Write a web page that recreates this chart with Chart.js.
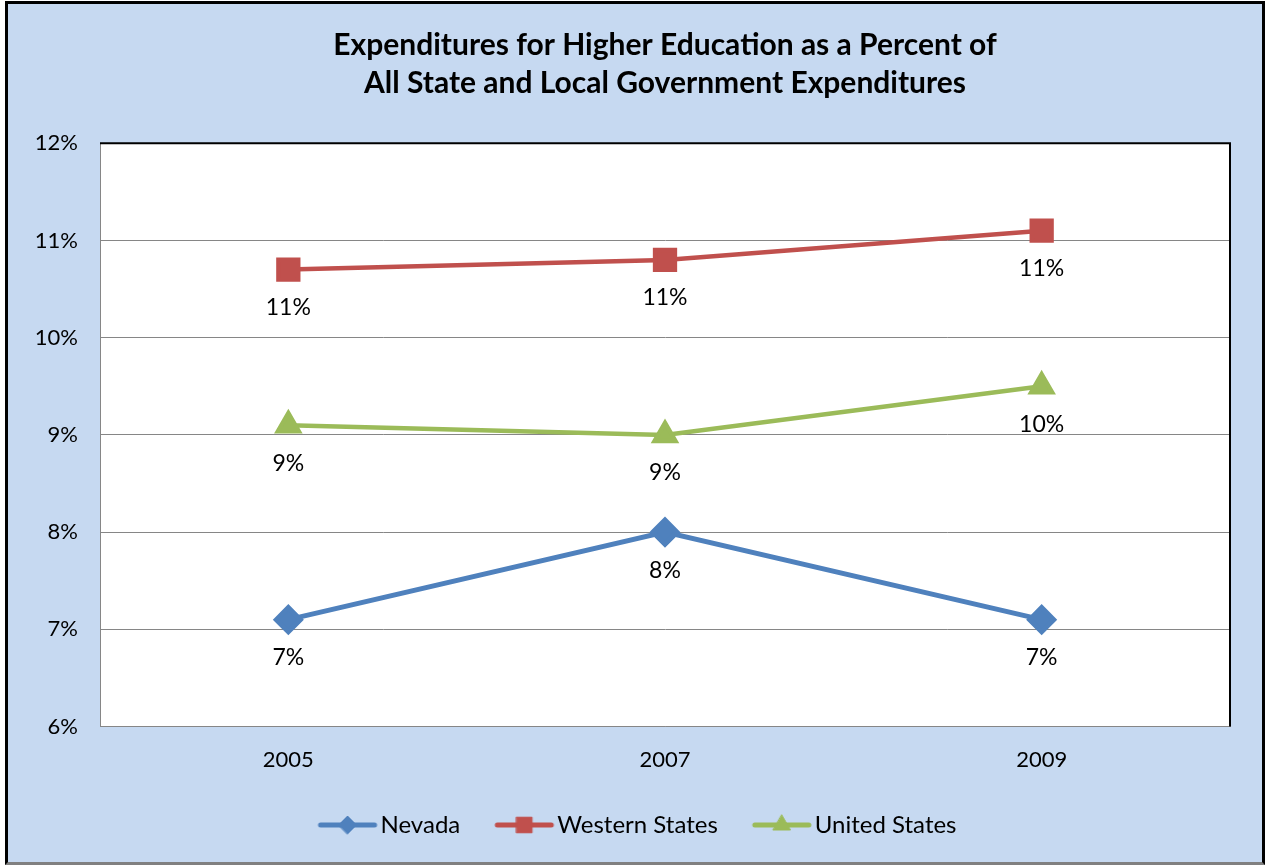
<!DOCTYPE html>
<html>
<head>
<meta charset="utf-8">
<script src="https://cdn.jsdelivr.net/npm/chart.js@4"></script>
<style>
  body { margin: 0; background: #fff; }
  #frame {
    position: absolute; left: 5px; top: 1px; width: 1260px; height: 864px;
    box-sizing: border-box; background: #c6d9f1;
    border: 3px solid #000; border-bottom: 3px solid #808080;
  }
  #chart { position: absolute; left: 0; top: 0; }
</style>
</head>
<body>
<div id="frame"></div>
<canvas id="chart" width="1265" height="865"></canvas>
<script>
const years = ['2005', '2007', '2009'];
const nevada = [7.1, 8.0, 7.1];
const western = [10.7, 10.8, 11.1];
const unitedStates = [9.1, 9.0, 9.5];
const yTicks = [6, 7, 8, 9, 10, 11, 12];

const fontName = 'Lato, "Liberation Sans", sans-serif';
const legendSize = 24;
const legendBox = 75;

// line + marker picture for the legend; left part is empty space between items
function legendIcon(color, style, radius) {
  const c = document.createElement('canvas');
  c.width = legendBox + legendSize;
  c.height = 26;
  const end = c.width - 4;
  const start = end - 58;
  const g = c.getContext('2d');
  g.strokeStyle = color;
  g.lineWidth = 5;
  g.lineCap = 'round';
  g.beginPath();
  g.moveTo(start + 2, 13);
  g.lineTo(end - 2, 13);
  g.stroke();
  g.fillStyle = color;
  g.lineWidth = 1;
  Chart.helpers.drawPoint(g, { pointStyle: style, radius: radius, borderWidth: 1, rotation: 0 }, (start + end) / 2, 13);
  return c;
}

const plotBackground = {
  id: 'plotBackground',
  beforeDraw(chart) {
    const { ctx, chartArea: a } = chart;
    ctx.save();
    ctx.fillStyle = '#fff';
    ctx.fillRect(a.left, a.top, a.right - a.left, a.bottom - a.top);
    ctx.restore();
  },
  afterDraw(chart) {
    const { ctx, chartArea: a } = chart;
    ctx.save();
    ctx.strokeStyle = '#000';
    ctx.lineWidth = 2;
    ctx.beginPath();
    ctx.moveTo(a.left, a.top);
    ctx.lineTo(a.right, a.top);
    ctx.lineTo(a.right, a.bottom);
    ctx.stroke();
    ctx.restore();
  }
};

const valueLabels = {
  id: 'valueLabels',
  afterDatasetsDraw(chart) {
    const ctx = chart.ctx;
    ctx.save();
    ctx.font = '23px ' + fontName;
    ctx.fillStyle = '#000';
    ctx.textAlign = 'center';
    ctx.textBaseline = 'middle';
    chart.data.datasets.forEach((ds, i) => {
      chart.getDatasetMeta(i).data.forEach((pt, j) => {
        ctx.fillText(Math.round(ds.data[j]) + '%', pt.x, pt.y + 38);
      });
    });
    ctx.restore();
  }
};

const icons = [
  legendIcon('#4f81bd', 'rectRot', 9),
  legendIcon('#c0504d', 'rect', 11),
  legendIcon('#9bbb59', 'triangle', 10)
];

new Chart(document.getElementById('chart'), {
  type: 'line',
  data: {
    labels: years,
    datasets: [
      {
        label: 'Nevada',
        data: nevada,
        borderColor: '#4f81bd',
        backgroundColor: '#4f81bd',
        borderWidth: 5,
        pointStyle: 'rectRot',
        pointRadius: 12,
        pointHoverRadius: 12
      },
      {
        label: 'Western States',
        data: western,
        borderColor: '#c0504d',
        backgroundColor: '#c0504d',
        borderWidth: 4.5,
        pointStyle: 'rect',
        pointRadius: 14,
        pointHoverRadius: 14
      },
      {
        label: 'United States',
        data: unitedStates,
        borderColor: '#9bbb59',
        backgroundColor: '#9bbb59',
        borderWidth: 4.5,
        pointStyle: 'triangle',
        pointRadius: 12,
        pointHoverRadius: 12
      }
    ]
  },
  options: {
    responsive: false,
    animation: false,
    layout: { padding: { left: 20, right: 35, top: 0, bottom: 18 } },
    plugins: {
      title: {
        display: true,
        fullSize: false,
        text: ['Expenditures for Higher Education as a Percent of', 'All State and Local Government Expenditures'],
        color: '#000',
        font: { family: fontName, size: 30, weight: 'bold', lineHeight: 1.27 },
        padding: { top: 26, bottom: 41 }
      },
      legend: {
        position: 'bottom',
        labels: {
          color: '#000',
          font: { family: fontName, size: legendSize },
          usePointStyle: true,
          pointStyleWidth: legendBox,
          padding: 10,
          generateLabels(chart) {
            const items = Chart.defaults.plugins.legend.labels.generateLabels(chart);
            items.forEach((it, i) => { it.pointStyle = icons[i]; });
            return items;
          }
        }
      },
      tooltip: { enabled: false }
    },
    scales: {
      x: {
        offset: true,
        afterFit(scale) { scale.height += 10; },
        grid: { display: false, drawTicks: false },
        border: { color: '#868686', width: 1 },
        ticks: { color: '#000', font: { family: fontName, size: 22 }, padding: 20 }
      },
      y: {
        min: 6,
        max: 12,
        afterBuildTicks(scale) { scale.ticks = yTicks.map(v => ({ value: v })); },
        afterFit(scale) { scale.width = 80; },
        grid: { color: '#868686', lineWidth: 1, drawTicks: false },
        border: { color: '#868686', width: 1 },
        ticks: { color: '#000', font: { family: fontName, size: 22 }, padding: 22, callback: v => v + '%' }
      }
    }
  },
  plugins: [plotBackground, valueLabels]
});
</script>
</body>
</html>
